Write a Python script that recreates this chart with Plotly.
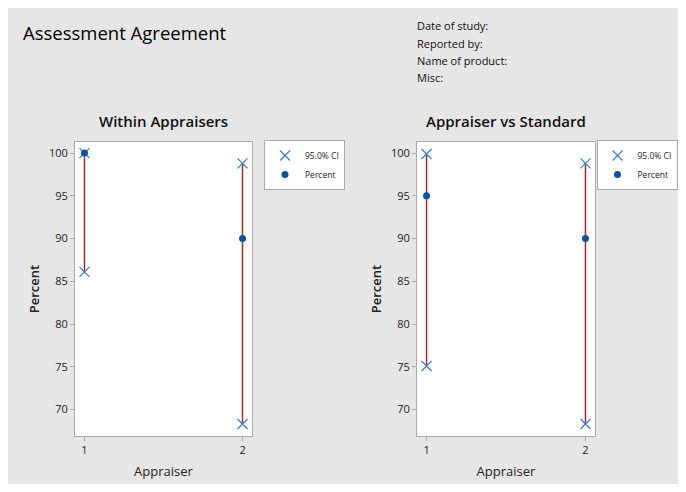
import plotly.graph_objects as go

# ---- data ----
appraisers = [1, 2]
within_percent = [100, 90]
within_ci_low = [86.1, 68.3]
within_ci_high = [100, 98.8]
vs_percent = [95, 90]
vs_ci_low = [75.1, 68.3]
vs_ci_high = [99.9, 98.8]
panel_titles = ["Within Appraisers", "Appraiser vs Standard"]
header_lines = ["Date of study:", "Reported by:", "Name of product:", "Misc:"]
main_title = "Assessment Agreement"
y_ticks = [70, 75, 80, 85, 90, 95, 100]
x_ticks = [1, 2]

# ---- styles ----
OFF = 8  # default page body margin
W, H = 686 - 2 * OFF, 492 - 2 * OFF
BG = "#e6e6e6"
LINE_RED = "#a52a2a"
X_BLUE = "#3f7fcb"
DOT_BLUE = "#0a52a3"
BORDER = "#ababab"
FONT = "Open Sans"


def px_x(p):
    return (p - OFF) / W


def px_y(p):
    return 1 - (p - OFF) / H


fig = go.Figure()

panels = [
    (within_percent, within_ci_low, within_ci_high, "x", "y", "legend"),
    (vs_percent, vs_ci_low, vs_ci_high, "x2", "y2", "legend2"),
]

for pct, lo, hi, xa, ya, leg in panels:
    lx, ly = [], []
    for a, l, h in zip(appraisers, lo, hi):
        lx += [a, a, None]
        ly += [l, h, None]
    fig.add_trace(go.Scatter(
        x=lx, y=ly, mode="lines", line=dict(color=LINE_RED, width=1.5),
        showlegend=False, hoverinfo="skip", xaxis=xa, yaxis=ya))
    fig.add_trace(go.Scatter(
        x=appraisers + appraisers, y=lo + hi, mode="markers", name="95.0% CI",
        marker=dict(symbol="x-thin-open", size=10, color=X_BLUE,
                    line=dict(color=X_BLUE, width=1.3)),
        legend=leg, legendrank=1, xaxis=xa, yaxis=ya))
    fig.add_trace(go.Scatter(
        x=appraisers, y=pct, mode="markers", name="Percent",
        marker=dict(symbol="circle", size=7, color=DOT_BLUE),
        legend=leg, legendrank=2, xaxis=xa, yaxis=ya))

axis_common = dict(showline=True, mirror=True, linecolor=BORDER, linewidth=1,
                   showgrid=False, zeroline=False, ticks="outside", ticklen=4,
                   tickcolor=BORDER, tickfont=dict(family=FONT, size=11, color="#222"))

xdoms = [(px_x(75), px_x(252)), (px_x(417), px_x(595))]
ydom = (px_y(436), px_y(142))

layout = dict(
    width=W, height=H,
    margin=dict(l=0, r=0, t=0, b=0),
    paper_bgcolor=BG, plot_bgcolor="white",
    font=dict(family=FONT, color="#222"),
)

for i, (xd, suffix) in enumerate(zip(xdoms, ["", "2"])):
    layout["xaxis" + suffix] = dict(
        axis_common, domain=list(xd), range=[0.94, 2.06], tickvals=x_ticks,
        anchor="y" + suffix,
        title=dict(text="Appraiser", font=dict(family=FONT, size=13, color="#222", weight=500),
                   standoff=10))
    layout["yaxis" + suffix] = dict(
        axis_common, domain=list(ydom), range=[66.9, 101.3], tickvals=y_ticks,
        anchor="x" + suffix,
        title=dict(text="Percent", font=dict(family=FONT, size=13, color="#222", weight=600),
                   standoff=6))

legend_common = dict(yanchor="top", bgcolor="white", bordercolor=BORDER, borderwidth=1,
                     font=dict(family=FONT, size=8.5, color="#222"), tracegroupgap=0,
                     itemwidth=30)
layout["legend"] = dict(legend_common, x=px_x(264), y=px_y(140), xanchor="left")
layout["legend2"] = dict(legend_common, x=(W - 0.5) / W, y=px_y(140), xanchor="right")

annotations = [
    dict(text=main_title, x=px_x(21), y=px_y(32), xref="paper", yref="paper",
         xanchor="left", yanchor="middle", showarrow=False,
         font=dict(family=FONT, size=18.5, color="#000", weight=500)),
]
for i, line in enumerate(header_lines):
    annotations.append(dict(text=line, x=px_x(415), y=px_y(26 + i * 17.3),
                            xref="paper", yref="paper", xanchor="left", yanchor="middle",
                            showarrow=False, font=dict(family=FONT, size=11, color="#111")))
for t, xd in zip(panel_titles, xdoms):
    annotations.append(dict(text=t, x=(xd[0] + xd[1]) / 2, y=px_y(121),
                            xref="paper", yref="paper", xanchor="center", yanchor="middle",
                            showarrow=False,
                            font=dict(family=FONT, size=15, color="#111", weight=600)))
layout["annotations"] = annotations

fig.update_layout(**layout)
fig.write_html("out.html", config=dict(displayModeBar=False))
